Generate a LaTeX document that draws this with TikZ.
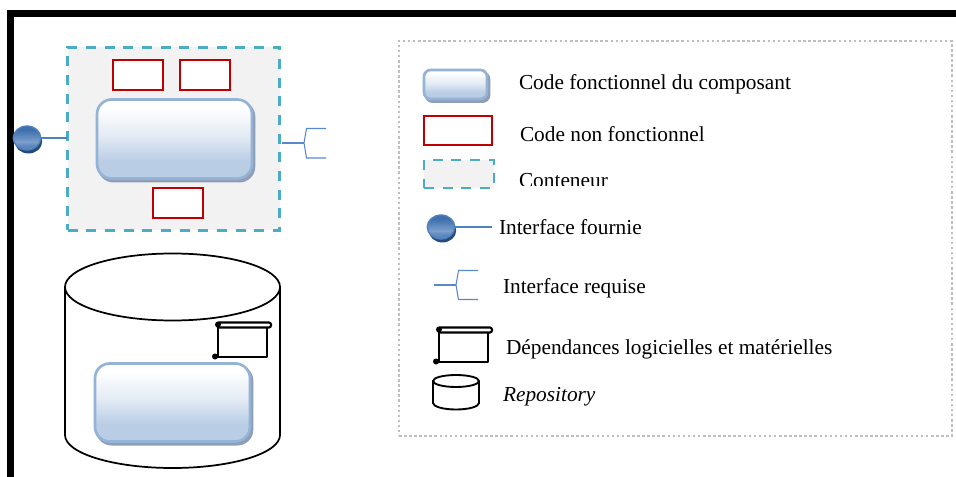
\documentclass[tikz,border=0pt]{standalone}
\usepackage{fontspec}
\setmainfont{Liberation Serif}
\usetikzlibrary{shapes.geometric,shadows}
\definecolor{cbot}{HTML}{B9CDE5}
\definecolor{cmid}{HTML}{E3EBF4}
\definecolor{bbot}{HTML}{5A86BE}
\definecolor{blite}{HTML}{7C9FCC}
\definecolor{btop}{HTML}{3F70AE}
\definecolor{cedge}{HTML}{95B3D7}
\definecolor{cshadow}{HTML}{8E9EB5}
\definecolor{rededge}{HTML}{C00000}
\definecolor{contteal}{HTML}{4BACC6}
\definecolor{contfill}{HTML}{F2F2F2}
\definecolor{ifline}{HTML}{4F81BD}
\definecolor{reqline}{HTML}{5B87CC}
\definecolor{ballshadow}{HTML}{254A7A}
\definecolor{framegrey}{HTML}{BFBFBF}
\pgfdeclareverticalshading{codeshade}{100bp}{color(0bp)=(cbot); color(25bp)=(cbot); color(36bp)=(cbot); color(52bp)=(cmid); color(70bp)=(white); color(75bp)=(white); color(100bp)=(white)}
\pgfdeclareverticalshading{ballshade}{100bp}{color(0bp)=(bbot); color(25bp)=(bbot); color(33bp)=(bbot); color(42bp)=(blite); color(66bp)=(btop); color(75bp)=(btop); color(100bp)=(btop)}
\tikzset{
  x=0.75pt,y=-0.75pt,
  sized/.style 2 args={minimum width=#1*0.75pt,minimum height=#2*0.75pt,inner sep=0pt,outer sep=0pt},
  codebox/.style={rectangle,draw=cedge,line width=2pt,shading=codeshade,
    general shadow={shadow xshift=1.5pt,shadow yshift=-2pt,fill=cshadow,draw=cshadow}},
  redbox/.style={rectangle,draw=rededge,line width=1.5pt,fill=white},
  contbox/.style={rectangle,draw=contteal,fill=contfill,line width=2.1pt,dash pattern=on 7.5pt off 6.5pt},
  ballnode/.style={ellipse,draw=ifline,line width=1pt,shading=ballshade,
    general shadow={shadow xshift=1.1pt,shadow yshift=-2.6pt,fill=ballshadow}},
  ifwire/.style={draw=ifline,line width=1.4pt},
  reqwire/.style={draw=reqline,line width=0.8pt},
  label/.style={anchor=base west,inner sep=0pt,outer sep=0pt,font=\fontsize{16}{19}\selectfont,text=black},
}
\newcommand{\scrollsym}[2]{%
  \begin{scope}[shift={(#1,#2)},line width=1.6pt,line join=round]
    \draw[black] (1,4) -- (1,35) -- (-3,35);
    \draw[black] (-3,35) -- (50,35) -- (50,5);
    \draw[black,rounded corners=1.5pt] (0,0.5) -- (54,0.5) -- (54,5.5) -- (0,5.5) -- cycle;
    \fill[black] (1,2.5) circle[radius=3];
    \fill[black] (-2,34.5) circle[radius=3];
  \end{scope}}
\begin{document}
\begin{tikzpicture}
\useasboundingbox (0,0) rectangle (956,477);
\fill[white] (0,0) rectangle (956,477);
\fill[black] (7,10) rectangle (956,17);
\fill[black] (7,10) rectangle (14,477);
% container
\node[contbox,sized={212}{183}] (cont) at (173.5,139) {};
\node[redbox,sized={50}{30}] (nf1) at (138,75) {};
\node[redbox,sized={50}{30}] (nf2) at (204.5,75) {};
\node[redbox,sized={50}{30}] (nf3) at (178,203) {};
\node[codebox,sized={155}{79},rounded corners=11pt] (code) at (174.5,139) {};
% provided interface
\node[ballnode,sized={27.5}{24}] (ball) at (27,138) {};
\coordinate (contL) at (67,138);
\draw[ifwire] (ball.east) -- (contL);
% required interface
\coordinate (reqA) at (282,143);
\coordinate (reqB) at (304,143);
\coordinate (reqT) at (326,128.5);
\coordinate (reqD) at (326,158);
\draw[reqwire] (reqA) -- (reqB);
\draw[reqwire] (reqT) -- (306.5,128.5) -- (reqB) -- (306.5,158) -- (reqD);
% repository
\draw[black,line width=1.3pt,fill=white] (65,287) -- (65,435) arc[start angle=180,end angle=0,x radius=107.5,y radius=33] -- (280,287);
\node[ellipse,draw=black,line width=1.3pt,fill=white,sized={215}{67}] (repotop) at (172.5,287) {};
\scrollsym{217}{322}
\node[codebox,sized={155}{78},rounded corners=11pt] (repocode) at (172.5,402.5) {};
% legend frame
\node[rectangle,draw=framegrey,line width=1.9pt,dash pattern=on 1.9pt off 1.9pt,sized={553}{395}] (legend) at (675.5,238.5) {};
% legend symbols
\node[codebox,sized={63}{29},rounded corners=5pt] (lcode) at (455.5,84.5) {};
\node[redbox,sized={68}{29}] (lred) at (457.5,131) {};
\node[contbox,sized={70}{28}] (lcont) at (459,174) {};
\node[ballnode,sized={27.5}{24}] (lball) at (441,227) {};
\coordinate (lballend) at (492,227);
\draw[ifwire] (lball.east) -- (lballend);
\coordinate (lreqA) at (434,285);
\coordinate (lreqB) at (456,285);
\coordinate (lreqT) at (478,270.5);
\coordinate (lreqD) at (478,299.5);
\draw[reqwire] (lreqA) -- (lreqB);
\draw[reqwire] (lreqT) -- (458.5,270.5) -- (lreqB) -- (458.5,299.5) -- (lreqD);
\scrollsym{438}{327}
\draw[black,line width=1.4pt,fill=white] (433,381) -- (433,403) arc[start angle=180,end angle=0,x radius=23,y radius=6.5] -- (479,381);
\node[ellipse,draw=black,line width=1.4pt,fill=white,sized={46}{12}] (lrepo) at (456,381) {};
% legend text
\node[label] (t1) at (519,90) {Code fonctionnel du composant};
\node[label] (t2) at (520,142) {Code non fonctionnel};
\begin{scope}
  \clip (510,165) rectangle (620,186);
  \node[label] (t3) at (519,188) {Conteneur};
\end{scope}
\node[label] (t4) at (499,235) {Interface fournie};
\node[label] (t5) at (503,293) {Interface requise};
\node[label] (t6) at (506,354) {Dépendances logicielles et matérielles};
\node[label] (t7) at (503,401) {\itshape Repository};
\end{tikzpicture}
\end{document}
